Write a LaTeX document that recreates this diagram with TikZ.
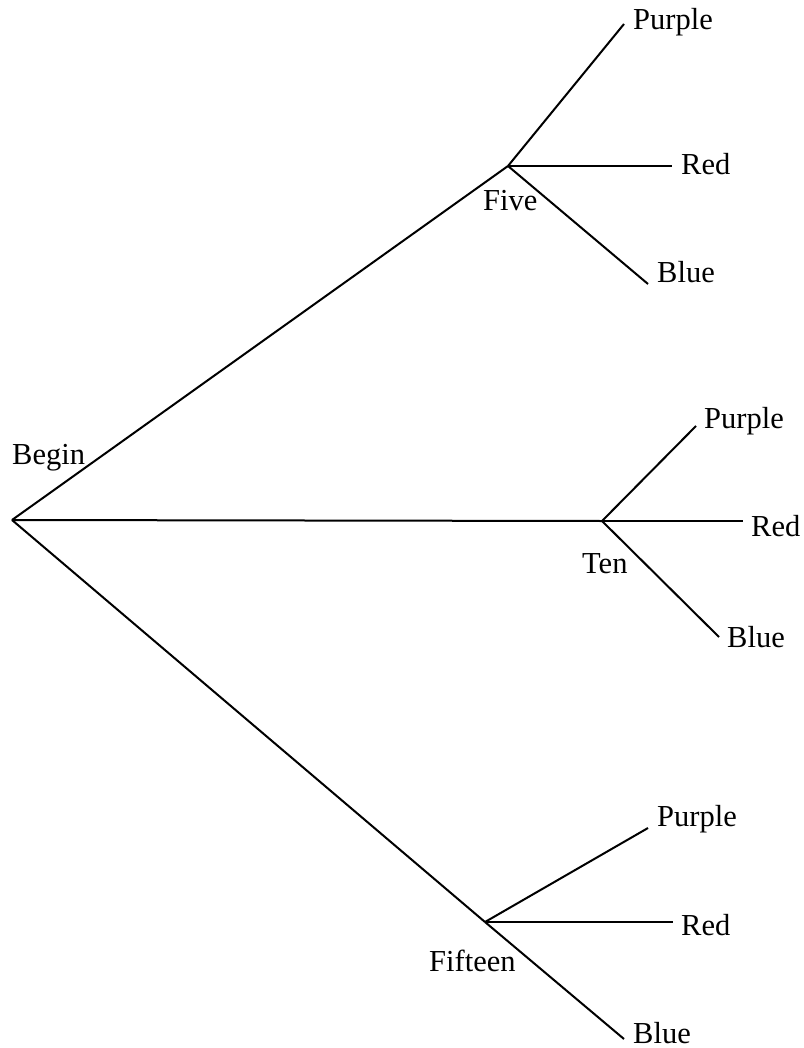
\documentclass[tikz,border=0pt]{standalone}
\usepackage{fontspec}
\setmainfont{Liberation Serif}
\begin{document}
\begin{tikzpicture}[x=1pt,y=-1pt,
  edge/.style={line width=2pt,black},
  lbl/.style={anchor=base west,inner sep=0pt,font=\fontsize{30.5}{36}\selectfont}]
\useasboundingbox (0,0) rectangle (803,1048);
% branch points
\coordinate (begin) at (12,520);
\coordinate (five) at (508,166);
\coordinate (ten) at (602,521);
\coordinate (fifteen) at (485,922);
% leaf ends
\coordinate (fP) at (624,24);
\coordinate (fR) at (672,166);
\coordinate (fB) at (648,284);
\coordinate (tP) at (696,426);
\coordinate (tR) at (743,521);
\coordinate (tB) at (719,637);
\coordinate (xP) at (648,828);
\coordinate (xR) at (673,922);
\coordinate (xB) at (624,1039);
% edges
\draw[edge] (begin) -- (five);
\draw[edge] (begin) -- (ten);
\draw[edge] (begin) -- (fifteen);
\draw[edge] (five) -- (fP);
\draw[edge] (five) -- (fR);
\draw[edge] (five) -- (fB);
\draw[edge] (ten) -- (tP);
\draw[edge] (ten) -- (tR);
\draw[edge] (ten) -- (tB);
\draw[edge] (fifteen) -- (xP);
\draw[edge] (fifteen) -- (xR);
\draw[edge] (fifteen) -- (xB);
% labels
\node[lbl] (lBegin) at (12,464) {Begin};
\node[lbl] (lFive) at (483,211) {Five};
\node[lbl] (lTen) at (582,573) {Ten};
\node[lbl] (lFifteen) at (429,971) {Fifteen};
\node[lbl] (lfP) at (633,30) {Purple};
\node[lbl] (lfR) at (681,175) {Red};
\node[lbl] (lfB) at (657,283) {Blue};
\node[lbl] (ltP) at (704,428) {Purple};
\node[lbl] (ltR) at (751,536) {Red};
\node[lbl] (ltB) at (727,647) {Blue};
\node[lbl] (lxP) at (657,826) {Purple};
\node[lbl] (lxR) at (681,935) {Red};
\node[lbl] (lxB) at (633,1043) {Blue};
\end{tikzpicture}
\end{document}
